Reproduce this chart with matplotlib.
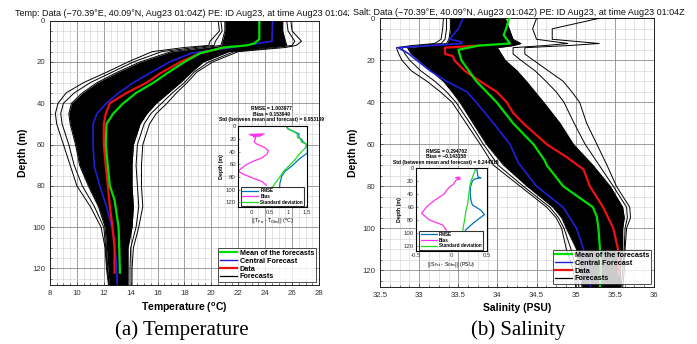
import matplotlib
matplotlib.use("Agg")
import matplotlib.pyplot as plt
from matplotlib.ticker import MultipleLocator, FormatStrFormatter
from matplotlib.transforms import Bbox, TransformedBbox
from matplotlib.lines import Line2D

plt.rcParams['font.family'] = ['Liberation Sans', 'DejaVu Sans']

# ---------------- Temperature panel data ----------------
t_depth_env = [0, 5, 10, 12, 13, 15, 20, 25, 30, 35, 40, 45, 50, 60, 70, 80, 90, 100, 110, 120, 128]
t_outer_lo = [20.5, 20.6, 19.9, 19.8, 18.0, 15.6, 13.8, 12.2, 10.5, 9.2, 8.6, 8.4, 8.5, 9.0, 9.5, 10.0, 11.0, 11.8, 12.1, 12.2, 12.35]
t_mid_lo = [20.7, 20.8, 20.3, 20.2, 18.8, 16.3, 14.2, 12.6, 11.0, 9.8, 9.0, 8.8, 8.9, 9.4, 9.8, 10.4, 11.3, 12.0, 12.15, 12.25, 12.4]
t_core_lo = [21.0, 21.0, 20.8, 20.7, 19.5, 17.0, 14.7, 13.0, 11.5, 10.4, 9.6, 9.4, 9.5, 9.9, 10.2, 10.85, 11.6, 12.1, 12.2, 12.3, 12.4]
t_core_hi = [25.3, 25.3, 25.5, 25.6, 24.0, 21.3, 19.4, 18.5, 17.7, 16.8, 15.9, 15.2, 14.7, 14.2, 14.1, 14.1, 14.2, 14.1, 13.8, 13.8, 13.8]
t_mid_hi = [25.6, 25.7, 26.2, 26.0, 24.8, 21.7, 19.8, 18.7, 18.0, 17.1, 16.3, 15.5, 15.0, 14.5, 14.4, 14.5, 14.6, 14.4, 14.0, 13.95, 13.95]
t_outer_hi = [25.9, 26.0, 26.7, 26.3, 25.5, 22.0, 20.1, 18.9, 18.2, 17.4, 16.7, 15.9, 15.4, 14.9, 14.8, 14.8, 14.9, 14.6, 14.2, 14.1, 14.1]

t_mean_depth = [0, 9, 11, 12, 13, 15.8, 20, 25.5, 30, 35, 40, 45, 50, 60, 70.6, 80, 86.8, 100, 110, 122]
t_mean = [23.56, 23.56, 23.2, 22.6, 20.9, 19.15, 18.0, 16.7, 15.7, 14.4, 13.45, 12.7, 12.2, 12.15, 12.3, 12.45, 12.8, 13.1, 13.15, 13.2]
t_central_depth = [0, 10, 13, 15.8, 20, 25.5, 30, 35, 40, 45, 50, 60, 70.6, 80, 90, 100, 106, 119, 128]
t_central = [24.55, 24.5, 21.5, 18.5, 16.9, 15.4, 14.2, 13.1, 12.2, 11.5, 11.2, 11.2, 11.3, 11.7, 12.2, 12.6, 12.8, 12.95, 13.0]
t_data_depth = [13, 15.8, 20, 25.5, 30, 35, 40, 45, 50, 60, 70.6, 80, 90, 100, 110, 122]
t_data = [20.9, 19.15, 17.7, 16.2, 15.2, 13.7, 12.45, 12.15, 12.0, 12.0, 12.15, 12.3, 12.45, 12.65, 12.8, 12.8]

t_err_depth = [0, 4, 10, 12, 18, 20, 25, 28, 34, 42, 52, 63, 71, 79, 90, 98]
t_std = [0.95, 0.99, 1.2, 1.25, 1.26, 1.34, 1.37, 1.5, 1.48, 1.34, 1.2, 1.02, 0.88, 0.79, 0.65, 0.56]
t_rmse = [0.97, 1.0, 1.22, 1.3, 1.3, 1.36, 1.42, 1.5, 1.53, 1.53, 1.3, 1.1, 0.92, 0.83, 0.78, 0.77]
t_bias_depth = [12, 13, 13.5, 14, 15, 16, 18, 25, 28, 34, 39, 44, 50, 55, 60, 68, 71, 76, 82, 87, 93]
t_bias = [0.35, -0.05, 0.3, 0.0, 0.25, 0.05, 0.12, 0.08, 0.15, 0.38, 0.47, 0.43, 0.29, 0.06, -0.12, -0.3, -0.36, -0.2, 0.06, 0.29, 0.41]

# ---------------- Salinity panel data ----------------
s_depth_env = [0, 5, 10, 12, 13, 14, 17, 20, 25, 30, 35, 40, 50, 60, 70, 80, 90, 95, 100, 110, 120, 128]
s_outer_lo = [33.31, 33.3, 33.28, 33.2, 32.9, 32.71, 32.74, 32.78, 32.9, 33.1, 33.27, 33.42, 33.6, 33.78, 33.95, 34.29, 34.63, 34.75, 34.82, 34.88, 34.97, 35.0]
s_mid_lo = [33.35, 33.35, 33.33, 33.28, 33.0, 32.78, 32.82, 32.88, 33.02, 33.2, 33.35, 33.47, 33.65, 33.82, 34.01, 34.33, 34.67, 34.78, 34.85, 34.94, 35.01, 35.04]
s_core_lo = [33.4, 33.4, 33.38, 33.35, 33.1, 32.85, 32.9, 33.0, 33.15, 33.31, 33.42, 33.52, 33.69, 33.86, 34.08, 34.38, 34.71, 34.82, 34.88, 35.01, 35.05, 35.08]
s_core_hi = [34.1, 34.15, 34.2, 34.3, 34.2, 34.0, 34.05, 34.1, 34.25, 34.37, 34.48, 34.59, 34.8, 34.97, 35.22, 35.44, 35.6, 35.62, 35.6, 35.6, 35.57, 35.57]
s_mid_hi = [34.5, 34.45, 34.5, 34.9, 34.6, 34.2, 34.2, 34.3, 34.48, 34.62, 34.75, 34.85, 34.98, 35.12, 35.3, 35.48, 35.65, 35.66, 35.63, 35.62, 35.6, 35.58]
s_outer_hi = [35.3, 34.7, 34.7, 35.3, 34.9, 34.35, 34.35, 34.46, 34.65, 34.84, 34.95, 35.05, 35.14, 35.27, 35.4, 35.52, 35.69, 35.7, 35.65, 35.63, 35.62, 35.6]

s_mean_depth = [0, 5, 8, 12, 13, 15, 20, 30, 40, 50, 60, 67.5, 70, 80, 90, 94.6, 100, 110, 120, 128]
s_mean = [34.15, 34.11, 34.08, 34.16, 33.76, 33.5, 33.54, 33.73, 33.99, 34.2, 34.46, 34.6, 34.63, 34.84, 35.22, 35.27, 35.29, 35.31, 35.32, 35.31]
s_central_depth = [0, 5, 10, 11, 12, 14, 16.7, 20, 25, 30, 35, 40, 50, 60, 69, 80, 90, 100, 110, 120, 128]
s_central = [33.56, 33.5, 33.39, 33.52, 33.55, 32.73, 32.86, 32.97, 33.14, 33.35, 33.61, 33.73, 33.95, 34.16, 34.27, 34.5, 34.84, 35.01, 35.1, 35.16, 35.19]
s_data_depth = [13, 14, 17, 18, 20, 25, 30, 35, 40, 45, 50, 60, 66, 72, 80, 90, 100, 110, 115, 122]
s_data = [33.76, 33.33, 33.33, 33.43, 33.45, 33.58, 33.78, 33.99, 34.12, 34.2, 34.33, 34.63, 34.88, 35.1, 35.18, 35.35, 35.48, 35.54, 35.55, 35.55]

s_err_depth = [0, 14, 15, 17, 20, 30, 40, 50, 57, 65, 72, 80, 88, 96]
s_std = [0.35, 0.3, 0.3, 0.29, 0.28, 0.26, 0.25, 0.24, 0.23, 0.21, 0.2, 0.19, 0.175, 0.165]
s_rmse = [0.36, 0.38, 0.42, 0.33, 0.3, 0.27, 0.27, 0.28, 0.3, 0.42, 0.47, 0.37, 0.28, 0.2]
s_bias_depth = [14, 15, 17, 18, 20, 25, 30, 35, 40, 50, 60, 70, 80, 88, 96]
s_bias = [0.12, 0.06, 0.13, 0.08, 0.06, 0.03, -0.03, -0.07, -0.1, -0.24, -0.35, -0.42, -0.31, -0.12, -0.07]

GREEN = '#00e000'
BLUE = '#1f1fdd'
RED = '#ee1111'
M_BLUE = '#0072bd'
M_MAG = '#ff33ee'
M_GREEN = '#22dd22'

fig = plt.figure(figsize=(6.97, 3.44), dpi=100)


def style_main(ax, xlim, xmaj, xmin):
    ax.set_xlim(*xlim)
    ax.set_ylim(128, 0)
    ax.xaxis.set_major_locator(MultipleLocator(xmaj))
    ax.xaxis.set_minor_locator(MultipleLocator(xmin))
    ax.xaxis.set_major_formatter(FormatStrFormatter('%g'))
    ax.yaxis.set_major_locator(MultipleLocator(20))
    ax.yaxis.set_minor_locator(MultipleLocator(5))
    ax.grid(which='major', color='#8c8c8c', lw=0.6)
    ax.grid(which='minor', color='#d0d0d0', lw=0.4)
    ax.set_axisbelow(True)
    ax.tick_params(which='both', direction='in', labelsize=5.6, length=2.5, width=0.5, colors='#333333')
    ax.tick_params(which='minor', length=1.3)
    for s in ax.spines.values():
        s.set_linewidth(0.7)
        s.set_color('#222222')


def ensemble(ax, d, olo, mlo, clo, chi, mhi, ohi):
    ax.fill_betweenx(d, clo, chi, color='black', lw=0, zorder=3)
    for arr in (olo, mlo, clo, chi, mhi, ohi):
        ax.plot(arr, d, color='black', lw=0.7, zorder=3)


def inset(ax, xlim, xticks, xticklabels, xlabel, d_err, std, rmse, d_bias, bias):
    ax.plot(rmse, d_err, color=M_BLUE, lw=0.9, label='RMSE')
    ax.plot(bias, d_bias, color=M_MAG, lw=0.9, label='Bias')
    ax.plot(std, d_err, color=M_GREEN, lw=0.9, label='Standard deviation')
    ax.set_xlim(*xlim)
    ax.set_ylim(128, 0)
    ax.set_xticks(xticks)
    ax.set_xticklabels(xticklabels)
    ax.set_yticks([0, 20, 40, 60, 80, 100, 120])
    ax.tick_params(direction='in', labelsize=4.3, length=1.5, width=0.4, pad=1.5, colors='#333333')
    ax.set_ylabel('Depth (m)', fontsize=3.8, fontweight='bold', labelpad=1)
    ax.set_xlabel(xlabel, fontsize=3.8, labelpad=1.5)
    for s in ax.spines.values():
        s.set_linewidth(0.8)
    leg = ax.legend(loc='lower center', frameon=True, fancybox=False,
                    edgecolor='black', handlelength=3.5, borderpad=0.3, labelspacing=0.15,
                    handletextpad=0.5, borderaxespad=0.3, prop={'weight': 'bold', 'size': 3.3})
    leg.get_frame().set_linewidth(0.8)


def main_legend(ax):
    handles = [Line2D([], [], color=GREEN, lw=1.6),
               Line2D([], [], color=BLUE, lw=1.0),
               Line2D([], [], color=RED, lw=1.6),
               Line2D([], [], color='black', lw=0.9)]
    labels = ['Mean of the forecasts', 'Central Forecast', 'Data', 'Forecasts']
    leg = ax.legend(handles, labels, loc='lower right', fancybox=False, edgecolor='#222222',
                    prop={'weight': 'bold', 'size': 5.2}, handlelength=2.4, borderpad=0.25,
                    labelspacing=0.1, handletextpad=0.4, borderaxespad=0.4)
    leg.get_frame().set_linewidth(0.7)
    leg.set_zorder(10)


# ---------------- Left panel ----------------
axL = fig.add_axes([0.0717, 0.1715, 0.386, 0.7685])
style_main(axL, (8, 28), 2, 0.5)
ensemble(axL, t_depth_env, t_outer_lo, t_mid_lo, t_core_lo, t_core_hi, t_mid_hi, t_outer_hi)
axL.plot(t_central, t_central_depth, color=BLUE, lw=1.2, zorder=5)
axL.plot(t_data, t_data_depth, color=RED, lw=1.6, zorder=6)
axL.plot(t_mean, t_mean_depth, color=GREEN, lw=1.6, zorder=7)
axL.set_ylabel('Depth (m)', fontsize=7.5, fontweight='bold', labelpad=3)
axL.set_xlabel('Temperature ($\\mathregular{^oC}$)', fontsize=7.5, fontweight='bold', labelpad=3)
main_legend(axL)
axL.text(0.825, 0.616, 'RMSE = 1.003977\nBias = 0.153940\nStd (between mean and forecast) = 0.953199',
         transform=axL.transAxes, ha='center', va='bottom', fontsize=3.6, fontweight='bold',
         linespacing=1.15, zorder=1)

insL = fig.add_axes([0.3415, 0.397, 0.099, 0.236])
inset(insL, (-0.36, 1.52), [0, 0.5, 1, 1.5], ['0', '0.5', '1', '1.5'],
      r'$||\mathregular{T_{Fct}}$ - $\mathregular{T_{Obs}}||$ ($\mathregular{^oC}$)',
      t_err_depth, t_std, t_rmse, t_bias_depth, t_bias)

# ---------------- Right panel ----------------
axR = fig.add_axes([0.5452, 0.1657, 0.3931, 0.7811])
style_main(axR, (32.5, 36), 0.5, 0.125)
ensemble(axR, s_depth_env, s_outer_lo, s_mid_lo, s_core_lo, s_core_hi, s_mid_hi, s_outer_hi)
axR.plot(s_central, s_central_depth, color=BLUE, lw=1.2, zorder=5)
axR.plot(s_data, s_data_depth, color=RED, lw=1.6, zorder=6)
axR.plot(s_mean, s_mean_depth, color=GREEN, lw=1.6, zorder=7)
axR.set_ylabel('Depth (m)', fontsize=7.5, fontweight='bold', labelpad=3)
axR.set_xlabel('Salinity (PSU)', fontsize=7.5, fontweight='bold', labelpad=3)
main_legend(axR)
axR.text(0.241, 0.455, 'RMSE = 0.294702\nBias = \u22120.143158\nStd (between mean and forecast) = 0.244315',
         transform=axR.transAxes, ha='center', va='bottom', fontsize=3.6, fontweight='bold',
         linespacing=1.15, zorder=1)

insR = fig.add_axes([0.5968, 0.2703, 0.1012, 0.2413])
inset(insR, (-0.5, 0.5), [-0.5, 0, 0.5], ['-0.5', '0', '0.5'],
      r'$||\mathregular{S_{Fct}}$ - $\mathregular{S_{Obs}}||$ (PSU)',
      s_err_depth, s_std, s_rmse, s_bias_depth, s_bias)

# ---------------- Titles ----------------
tL = fig.text(184.5 / 697, 1 - 13.5 / 344,
              'Temp: Data (\u221270.39\u00b0E, 40.09\u00b0N, Aug23 01:04Z) PE: ID Aug23, at time Aug23 01:04Z',
              ha='center', va='center', fontsize=6.5, color='#111111')
tL.set_clip_box(TransformedBbox(Bbox([[0, 0], [349 / 697, 1]]), fig.transFigure))
tL.set_clip_on(True)
fig.text(518.5 / 697, 1 - 12.5 / 344,
         'Salt: Data (\u221270.39\u00b0E, 40.09\u00b0N, Aug23 01:04Z) PE: ID Aug23, at time Aug23 01:04Z',
         ha='center', va='center', fontsize=6.5, color='#111111')

# ---------------- Captions ----------------
fig.text(182 / 697, 1 - 330 / 344, '(a) Temperature', ha='center', va='center',
         fontsize=15, family='Liberation Serif')
fig.text(518 / 697, 1 - 330 / 344, '(b) Salinity', ha='center', va='center',
         fontsize=15, family='Liberation Serif')

fig.savefig('out.png', dpi=100)
